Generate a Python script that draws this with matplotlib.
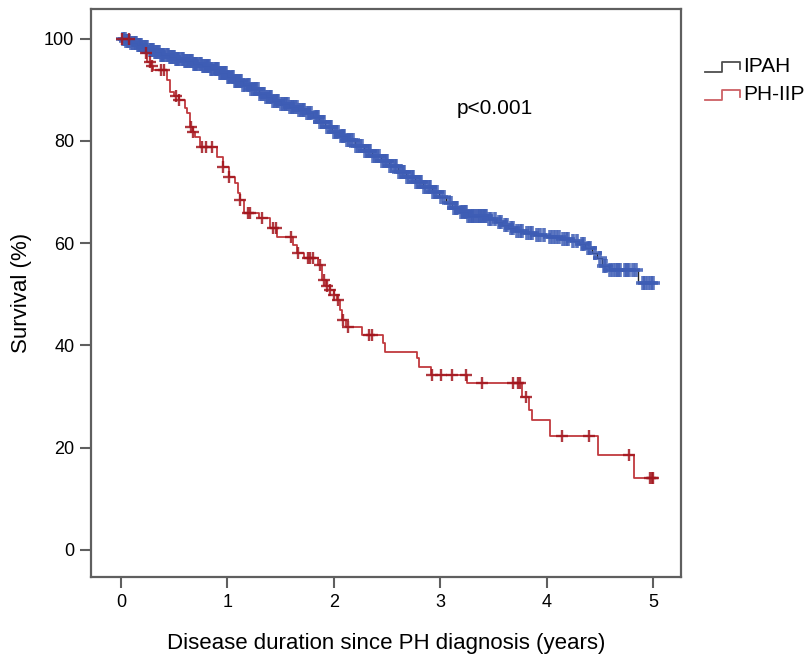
import numpy as np
import matplotlib
matplotlib.use("Agg")
import matplotlib.pyplot as plt

plt.rcParams['font.family'] = ['Liberation Sans', 'DejaVu Sans']

# ---------------- data ----------------
ipah_t = [0.00, 0.05, 0.10, 0.15, 0.20, 0.26, 0.32, 0.38, 0.45, 0.52, 0.60, 0.68, 0.76, 0.84,
          0.92, 1.00, 1.07, 1.15, 1.22, 1.30, 1.36, 1.42, 1.50, 1.58, 1.66, 1.74, 1.80, 1.86,
          1.92, 1.98, 2.05, 2.12, 2.20, 2.28, 2.36, 2.44, 2.52, 2.60, 2.68, 2.76, 2.84, 2.92,
          2.99, 3.05, 3.11, 3.18, 3.26, 3.45, 3.52, 3.58, 3.64, 3.70, 3.78, 3.88, 4.00, 4.12,
          4.22, 4.30, 4.36, 4.42, 4.47, 4.52, 4.58, 4.86]
ipah_s = [100.0, 99.6, 99.2, 98.8, 98.3, 97.8, 97.3, 96.9, 96.5, 96.1, 95.6, 95.1, 94.6, 94.0,
          93.3, 92.5, 91.7, 91.0, 90.1, 89.2, 88.5, 87.8, 87.2, 86.7, 86.1, 85.4, 84.6, 83.6,
          82.7, 81.8, 81.0, 80.2, 79.0, 78.0, 77.0, 76.0, 75.1, 74.0, 73.0, 72.0, 71.0, 70.0,
          69.0, 67.8, 66.8, 66.0, 65.4, 64.8, 64.2, 63.5, 62.9, 62.4, 62.0, 61.6, 61.2, 60.8,
          60.4, 59.8, 59.0, 58.0, 57.0, 55.6, 54.8, 52.2]
ipah_cens = [0.02, 0.04, 0.05, 0.07, 0.08, 0.10, 0.11, 0.13, 0.14, 0.16, 0.17, 0.18, 0.19, 0.21,
             0.22, 0.24, 0.25, 0.27, 0.28, 0.29, 0.30, 0.32, 0.33, 0.35, 0.36, 0.38, 0.39, 0.40,
             0.41, 0.43, 0.44, 0.46, 0.47, 0.49, 0.50, 0.52, 0.53, 0.54, 0.55, 0.57, 0.58, 0.60,
             0.61, 0.63, 0.64, 0.66, 0.67, 0.69, 0.70, 0.71, 0.72, 0.74, 0.75, 0.77, 0.78, 0.80,
             0.81, 0.82, 0.83, 0.85, 0.86, 0.88, 0.89, 0.90, 0.91, 0.93, 0.94, 0.96, 0.97, 0.98,
             0.99, 1.01, 1.02, 1.04, 1.05, 1.07, 1.08, 1.09, 1.10, 1.12, 1.13, 1.15, 1.17, 1.19,
             1.20, 1.22, 1.24, 1.26, 1.27, 1.29, 1.31, 1.33, 1.34, 1.36, 1.38, 1.40, 1.41, 1.43,
             1.45, 1.47, 1.48, 1.50, 1.52, 1.54, 1.55, 1.57, 1.59, 1.61, 1.62, 1.64, 1.65, 1.67,
             1.69, 1.71, 1.72, 1.75, 1.77, 1.79, 1.82, 1.84, 1.85, 1.87, 1.89, 1.91, 1.94, 1.96,
             1.97, 2.00, 2.02, 2.04, 2.07, 2.09, 2.10, 2.12, 2.14, 2.16, 2.18, 2.21, 2.23, 2.25,
             2.26, 2.29, 2.31, 2.33, 2.34, 2.37, 2.39, 2.41, 2.42, 2.45, 2.47, 2.49, 2.50, 2.53,
             2.55, 2.57, 2.58, 2.61, 2.63, 2.65, 2.66, 2.69, 2.71, 2.73, 2.74, 2.77, 2.79, 2.81,
             2.82, 2.85, 2.87, 2.89, 2.90, 2.93, 2.95, 2.97, 3.01, 3.03, 3.08, 3.10, 3.13, 3.15,
             3.16, 3.19, 3.21, 3.23, 3.24, 3.26, 3.28, 3.30, 3.31, 3.33, 3.34, 3.36, 3.37, 3.39,
             3.40, 3.42, 3.43, 3.46, 3.48, 3.51, 3.55, 3.57, 3.61, 3.63, 3.66, 3.68, 3.72, 3.75,
             3.77, 3.81, 3.84, 3.86, 3.91, 3.94, 3.97, 4.03, 4.06, 4.09, 4.11, 4.15, 4.18, 4.20,
             4.25, 4.28, 4.33, 4.35, 4.39, 4.41, 4.45, 4.50, 4.54, 4.56, 4.59, 4.62, 4.65, 4.67,
             4.69, 4.73, 4.75, 4.77, 4.81, 4.84, 4.90, 4.92, 4.95, 4.98, 5.00]

iip_t = [0.00, 0.18, 0.21, 0.23, 0.25, 0.28, 0.30, 0.43, 0.46, 0.50, 0.55, 0.60, 0.62, 0.65,
         0.68, 0.70, 0.74, 0.90, 0.96, 1.02, 1.07, 1.10, 1.12, 1.16, 1.30, 1.40, 1.47, 1.62,
         1.65, 1.72, 1.85, 1.89, 1.93, 1.96, 2.00, 2.03, 2.06, 2.08, 2.11, 2.26, 2.46, 2.48,
         2.78, 2.80, 2.91, 3.25, 3.77, 3.83, 3.86, 4.03, 4.48, 4.82]
iip_s = [100.0, 98.8, 98.3, 97.2, 95.4, 94.6, 93.8, 91.9, 89.5, 88.8, 88.0, 86.5, 85.4, 82.7,
         81.7, 80.7, 78.8, 76.8, 74.9, 72.9, 71.7, 69.8, 68.4, 65.9, 64.9, 63.0, 61.2, 59.6,
         58.1, 57.0, 55.7, 52.8, 51.6, 50.8, 49.8, 48.9, 46.9, 45.0, 43.6, 42.0, 40.5, 38.7,
         37.5, 35.8, 34.2, 32.6, 29.9, 27.4, 25.4, 22.3, 18.6, 14.1]
iip_cens = [0.01, 0.08, 0.24, 0.27, 0.29, 0.38, 0.41, 0.52, 0.55, 0.66, 0.68, 0.76, 0.80, 0.86,
            0.96, 1.02, 1.12, 1.19, 1.21, 1.33, 1.43, 1.46, 1.60, 1.66, 1.76, 1.78, 1.80, 1.87,
            1.91, 1.94, 1.96, 2.00, 2.04, 2.09, 2.13, 2.33, 2.36, 2.92, 3.01, 3.11, 3.24, 3.39,
            3.68, 3.73, 3.75, 3.80, 4.14, 4.40, 4.77, 4.97, 4.99, 5.00]

x_ticks = [0, 1, 2, 3, 4, 5]
y_ticks = [0, 20, 40, 60, 80, 100]
series_names = ["IPAH", "PH-IIP"]
x_label = "Disease duration since PH diagnosis (years)"
y_label = "Survival (%)"
p_text = "p<0.001"
t_end = 5.0

BLUE = '#3E5DB5'
IPAH_LINE = '#222222'
RED_LINE = '#C0393E'
RED_MARK = '#A3161E'
SPINE = '#5f5f5f'


def step_arrays(t, s, end):
    t = np.asarray(t, float)
    s = np.asarray(s, float)
    return np.append(t, end), np.append(s, s[-1])


def step_value(t, s, c):
    idx = np.searchsorted(np.asarray(t), np.asarray(c), side='right') - 1
    return np.asarray(s)[idx]


W, H = 811, 655
fig = plt.figure(figsize=(W / 100, H / 100), dpi=100)
L, R, T, B = 91, 681, 9, 577
ax = fig.add_axes([L / W, 1 - B / H, (R - L) / W, (B - T) / H])

# IPAH
tt, ss = step_arrays(ipah_t, ipah_s, t_end)
ax.step(tt, ss, where='post', color=IPAH_LINE, lw=1.0, zorder=2)
ax.plot(ipah_cens, step_value(ipah_t, ipah_s, ipah_cens), linestyle='none', marker='+',
        ms=10, mew=2.6, color=BLUE, alpha=0.85, zorder=3)

# PH-IIP
tt, ss = step_arrays(iip_t, iip_s, t_end)
ax.step(tt, ss, where='post', color=RED_LINE, lw=1.3, zorder=2)
ax.plot(iip_cens, step_value(iip_t, iip_s, iip_cens), linestyle='none', marker='+',
        ms=9, mew=1.7, color=RED_MARK, alpha=0.85, zorder=3)

ax.set_xlim(-0.28, 5.26)
ax.set_ylim(-5.3, 105.8)
ax.set_xticks(x_ticks)
ax.set_yticks(y_ticks)
ax.tick_params(axis='both', direction='out', length=8, width=1.5, color=SPINE,
               labelsize=13, pad=4)
for sp in ax.spines.values():
    sp.set_color(SPINE)
    sp.set_linewidth(1.6)
ax.set_xlabel(x_label, fontsize=16, labelpad=16)
ax.set_ylabel(y_label, fontsize=16, labelpad=9)

# annotations / legend in pixel space
ov = fig.add_axes([0, 0, 1, 1], facecolor='none')
ov.set_xlim(0, W)
ov.set_ylim(H, 0)
ov.axis('off')
ov.text(495, 108, p_text, fontsize=15, ha='center', va='center')
legend_cols = [IPAH_LINE, RED_LINE]
for i, (name, col) in enumerate(zip(series_names, legend_cols)):
    y0 = 72 + 28 * i
    ov.plot([705, 722, 722, 740, 740], [y0, y0, y0 - 10, y0 - 10, y0 - 3],
            color=col, lw=1.3, alpha=0.8)
    ov.text(743, y0 - 5, name, fontsize=15, ha='left', va='center')

fig.savefig('out.png', dpi=100)
